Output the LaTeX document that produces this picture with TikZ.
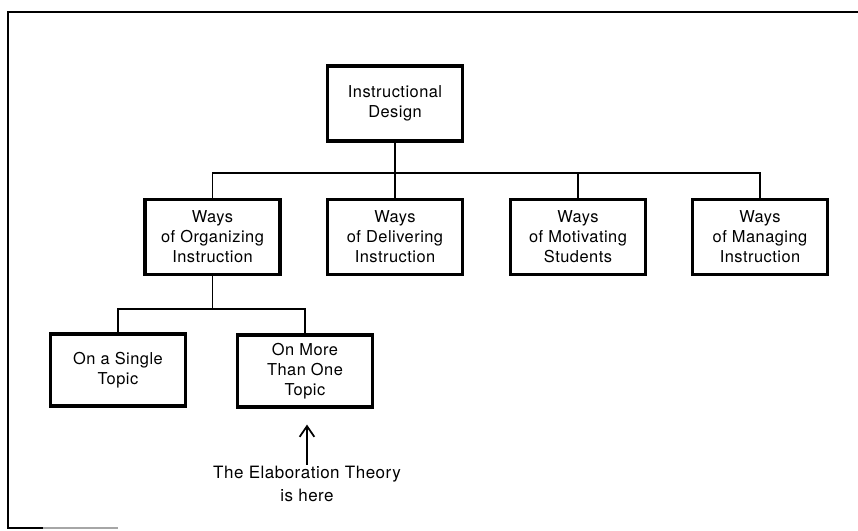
\documentclass[tikz,border=0pt]{standalone}
\usepackage{fontspec}
\setmainfont[LetterSpace=3]{TeX Gyre Heros}
\usetikzlibrary{positioning,arrows.meta}
\tikzset{
  >={Straight Barb[length=3.2mm,width=4.4mm]},
  idbox/.style={draw,line width=3pt,minimum width=4.05cm,minimum height=2.25cm,
    align=center,inner sep=2pt,font=\fontsize{14}{17}\selectfont},
  subbox/.style={idbox,minimum height=2.15cm},
  tline/.style={line width=1.3pt},
  frameline/.style={line width=1.8pt},
  notelbl/.style={align=center,inner sep=1pt,font=\fontsize{14.5}{20}\selectfont},
}
\begin{document}
\begin{tikzpicture}[x=0.03cm,y=-0.03cm]
  \useasboundingbox (0,0) rectangle (858,531);
  % frame
  \draw[frameline] (858,12) -- (8,12) -- (8,528) -- (43,528);
  \draw[frameline,black!35] (43,528) -- (118,528);
  % top
  \node[idbox] (design) at (395,103.5) {Instructional\\Design};
  % second row
  \node[idbox] (org) at (212.5,237) {Ways\\of Organizing\\Instruction};
  \node[idbox] (del) at (395,237) {Ways\\of Delivering\\Instruction};
  \node[idbox] (mot) at (578,237) {Ways\\of Motivating\\Students};
  \node[idbox] (man) at (760,237) {Ways\\of Managing\\Instruction};
  % third row
  \node[subbox] (single) at (118,370) {On a Single\\Topic};
  \node[subbox] (more) at (305,371) {On More\\Than One\\Topic};
  \node[notelbl] (note) at (307,484) {The Elaboration Theory\\is here};
  \coordinate (j1) at (395,173);
  \coordinate (j2) at (212.5,309);
  \draw[tline] (design) -- (j1);
  \draw[tline] (org.north) |- (j1) -| (man.north);
  \draw[tline] (j1) -- (del.north);
  \draw[tline] (mot.north) -- (mot.north |- j1);
  \draw[tline] (org) -- (j2);
  \draw[tline] (single.north) |- (j2) -| (more.north);
  \draw[->,line width=1.5pt,shorten >=0.48cm] (note.north) -- (note.north |- more.south);
\end{tikzpicture}
\end{document}
